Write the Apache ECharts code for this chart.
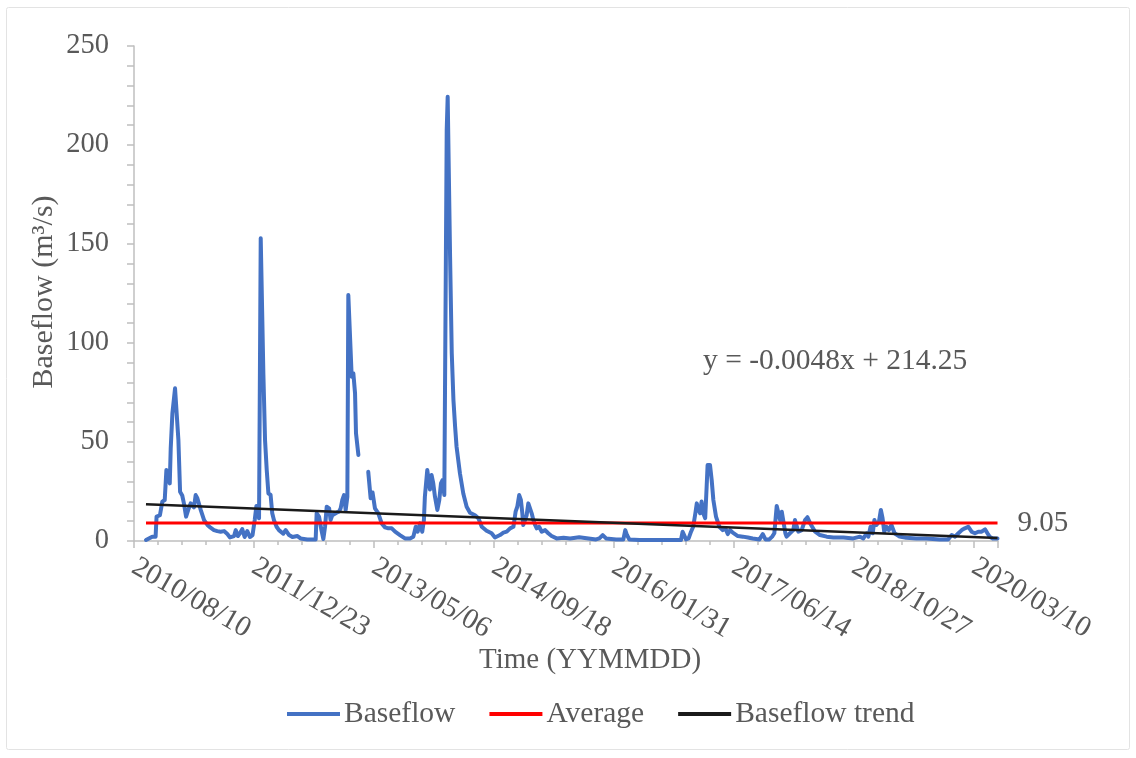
<!DOCTYPE html>
<html>
<head>
<meta charset="utf-8">
<script src="https://cdn.jsdelivr.net/npm/echarts@6/dist/echarts.min.js"></script>
<style>
  html, body { margin: 0; padding: 0; background: #ffffff; }
  #chart { width: 1136px; height: 758px; }
</style>
</head>
<body>
<div id="chart"></div>
<script>
// Days since 2010/08/10
const days = [
  50, 76, 90, 94, 108, 118, 128, 135, 139, 149, 153, 160, 167, 171, 176, 185, 192, 201, 208, 217,
  226, 236, 244, 250, 257, 264, 278, 292, 306, 319, 333, 347, 361, 375, 389, 400, 417, 424, 433, 442,
  451, 461, 472, 483, 494, 503, 510, 517, 521, 528, 532, 539, 546, 553, 560, 569, 576, 583, 594, 604,
  611, 622, 632, 646, 660, 681, 694, 722, 757, 761, 771, 781, 789, 796, 803, 813, 819, 826, 833, 844,
  854, 861, 868, 875, 882, 889, 893, 900, 907, 914, 921, 925, 935, 955, 976, 986, 994, 1004, 1018, 1032,
  1046, 1060, 1074, 1088, 1108, 1129, 1150, 1164, 1174, 1182, 1192, 1201, 1208, 1212, 1222, 1229, 1233, 1240, 1247, 1254,
  1264, 1272, 1279, 1286, 1293, 1300, 1303, 1307, 1313, 1317, 1324, 1331, 1338, 1344, 1358, 1372, 1386, 1400, 1421, 1435,
  1449, 1469, 1490, 1504, 1525, 1539, 1553, 1567, 1581, 1590, 1597, 1605, 1612, 1618, 1622, 1629, 1636, 1643, 1650, 1657,
  1664, 1671, 1678, 1688, 1699, 1713, 1726, 1740, 1761, 1790, 1817, 1855, 1925, 1939, 1953, 1967, 2009, 2039, 2047, 2054,
  2064, 2106, 2161, 2217, 2279, 2286, 2293, 2300, 2311, 2321, 2330, 2339, 2345, 2352, 2359, 2365, 2372, 2380, 2386, 2390,
  2400, 2407, 2414, 2425, 2439, 2453, 2464, 2474, 2484, 2495, 2516, 2537, 2558, 2578, 2606, 2620, 2631, 2647, 2659, 2668,
  2678, 2685, 2692, 2699, 2706, 2714, 2719, 2733, 2747, 2754, 2761, 2768, 2782, 2796, 2806, 2817, 2838, 2858, 2886, 2914,
  2956, 2997, 3025, 3039, 3053, 3060, 3069, 3078, 3085, 3094, 3104, 3112, 3119, 3126, 3135, 3145, 3156, 3169, 3190, 3218,
  3260, 3301, 3357, 3392, 3407, 3421, 3435, 3449, 3462, 3476, 3490, 3504, 3518, 3532, 3546, 3556, 3565, 3578, 3598
];
// Baseflow (m3/s)
const baseflow = [
  0.5, 2.2, 2.2, 12.3, 13, 19.9, 20.7, 35.9, 36.7, 29.1, 46.8, 64.5, 65, 77.1, 77, 51, 24.9, 23, 19, 12.3,
  15.7, 19, 19, 17, 23.2, 21.6, 15.7, 10.6, 8.1, 6.7, 5.5, 5, 4.7, 5, 3.5, 1.8, 2.5, 5.5, 2.5, 4,
  6, 2, 5, 2, 3, 10.6, 17.7, 17.5, 11.5, 152.9, 152.5, 84.7, 51, 35.9, 24, 23.4, 14, 10.6, 7.2, 5.5,
  6.2, 3.7, 5.5, 3, 2, 2.5, 1.3, 0.8, 0.8, 14, 12.3, 5.5, 1, 7.2, 17.3, 16.5, 10.6, 13, 12.6, 14.3,
  14.8, 16.5, 20.7, 23.2, 15.7, 22.4, 124.2, 124.5, 83, 84.7, 74.6, 54.4, 43.4, null, 35, 21.6, 24.5, 16.5, 14, 8.9,
  6.9, 6.4, 6.4, 4.7, 3, 1.3, 1.3, 2.2, 7.2, 4.7, 8.9, 4.7, 10.6, 22.4, 35.9, 35, 26, 33.3, 29.1, 22.4,
  15.7, 20.7, 29.1, 30.8, 23.2, 24, 207.6, 224.4, 224, 143.6, 94.8, 71.2, 57.7, 47.6, 34.2, 24, 17.3, 14.3, 13, 11.5,
  7.2, 5.2, 3.9, 1.8, 3, 4.2, 4.7, 6.4, 7.2, 14.8, 17.3, 23.2, 20.7, 14, 8.1, 10.6, 13, 19, 19.9, 14,
  10.6, 8.1, 6.4, 7.2, 4.7, 5.5, 3.9, 2.5, 1.3, 1.6, 1.3, 1.9, 0.8, 1.3, 3, 1.3, 0.8, 0.8, 5.5, 3,
  0.8, 0.5, 0.5, 0.5, 0.5, 4.7, 5.5, 0.8, 1.3, 4.7, 7.2, 14, 19, 15.7, 14, 19.9, 14, 11.5, 27.4, 38.4,
  38.4, 30.8, 20.7, 12.3, 7.2, 5.5, 6.4, 3.5, 5.5, 4.2, 2.5, 2.2, 1.8, 1.3, 0.8, 3.5, 0.8, 0.8, 2.2, 3.9,
  17.7, 17.3, 10.6, 14.8, 14.3, 3.9, 2.2, 3.9, 5.5, 10.6, 11.5, 4.7, 5.5, 10.6, 12, 9, 4.7, 3, 2.2, 1.8,
  1.8, 1.3, 2.2, 1.3, 3.9, 2.2, 7.2, 3.9, 10.6, 8.1, 9.8, 15.7, 11.5, 4.7, 7.2, 5.5, 8.1, 3.9, 2.2, 1.6,
  1.3, 1.3, 0.8, 0.8, 3, 2.2, 3.9, 5.5, 6.4, 7.2, 4.7, 3.9, 4.7, 4.7, 5.9, 3.9, 2.2, 1.3, 1.3
];
const lineDays = [50, 3598];
const averageValues = [9.05, 9.05];
const trendValues = [18.6, 1.5];
const xTickLabels = ['2010/08/10', '2011/12/23', '2013/05/06', '2014/09/18', '2016/01/31', '2017/06/14', '2018/10/27', '2020/03/10'];
const yTickValues = [0, 50, 100, 150, 200, 250];
const equationText = 'y = -0.0048x + 214.25';

const FONT = '"Liberation Serif", "Times New Roman", serif';
const GRAY = '#595959';
const AXIS_GRAY = '#BFBFBF';
const FS = 29;

const chart = echarts.init(document.getElementById('chart'), null, { renderer: 'canvas' });

const option = {
  backgroundColor: '#ffffff',
  animation: false,
  textStyle: { fontFamily: FONT },
  grid: { left: 134, right: 138, top: 46, bottom: 217, containLabel: false, outerBoundsMode: 'none' },
  xAxis: [
    {
      type: 'value', position: 'bottom', min: 0, max: 3600, interval: 500,
      axisLine: { show: true, lineStyle: { color: AXIS_GRAY, width: 1.5 } },
      axisTick: { show: true, length: 7, lineStyle: { color: AXIS_GRAY, width: 1.5 } },
      splitLine: { show: false },
      axisLabel: {
        rotate: -30, margin: 24, fontSize: FS, color: GRAY, fontFamily: FONT,
        formatter: function (v) {
          const i = Math.round(v / 500);
          return (v % 500 === 0 && i < xTickLabels.length) ? xTickLabels[i] : '';
        }
      }
    },
    {
      type: 'value', position: 'bottom', min: 0, max: 3600, interval: 100,
      axisLine: { show: false },
      axisTick: { show: true, length: 4, lineStyle: { color: AXIS_GRAY, width: 1.5 } },
      splitLine: { show: false },
      axisLabel: { show: false }
    }
  ],
  yAxis: {
    type: 'value', min: 0, max: 250, interval: 50,
    axisLine: { show: true, lineStyle: { color: AXIS_GRAY, width: 1.5 } },
    axisTick: { show: true, length: 7, lineStyle: { color: AXIS_GRAY, width: 1.5 } },
    minorTick: { show: true, splitNumber: 5, length: 7, lineStyle: { color: AXIS_GRAY, width: 1.5 } },
    splitLine: { show: false },
    axisLabel: {
      margin: 25, fontSize: 28.5, color: GRAY, fontFamily: FONT,
      formatter: function (v) { return yTickValues.indexOf(v) >= 0 ? String(v) : ''; }
    }
  },
  legend: {
    left: 287, top: 699, padding: 0,
    itemWidth: 53, itemHeight: 4, itemGap: 34,
    icon: 'rect',
    textStyle: { fontSize: 29.5, color: GRAY, fontFamily: FONT, padding: [0, 0, 0, -1] },
    data: ['Baseflow', 'Average', 'Baseflow trend']
  },
  series: [
    {
      name: 'Baseflow', type: 'line', xAxisIndex: 0,
      data: days.map((d, i) => [d, baseflow[i]]),
      showSymbol: false, symbol: 'none',
      lineStyle: { color: '#4472C4', width: 4, join: 'round', cap: 'round' },
      itemStyle: { color: '#4472C4' },
      connectNulls: false, z: 2
    },
    {
      name: 'Average', type: 'line', xAxisIndex: 0,
      data: lineDays.map((d, i) => [d, averageValues[i]]),
      showSymbol: false, symbol: 'none',
      lineStyle: { color: '#FF0000', width: 3 },
      itemStyle: { color: '#FF0000' },
      endLabel: {
        show: true, distance: 20, fontSize: FS, color: GRAY, fontFamily: FONT,
        formatter: function (p) { return averageValues[1].toFixed(2); }
      },
      z: 3
    },
    {
      name: 'Baseflow trend', type: 'line', xAxisIndex: 0,
      data: lineDays.map((d, i) => [d, trendValues[i]]),
      showSymbol: false, symbol: 'none',
      lineStyle: { color: '#1A1A1A', width: 2.5 },
      itemStyle: { color: '#1A1A1A' },
      z: 4
    }
  ],
  graphic: [
    {
      type: 'rect', silent: true, z: -1,
      shape: { x: 6.5, y: 7.5, width: 1123, height: 742, r: 2 },
      style: { fill: 'none', stroke: '#E3E3E3', lineWidth: 1 }
    },
    {
      type: 'text', left: 703, top: 346,
      style: { text: equationText, font: '29.5px ' + FONT, fill: GRAY }
    },
    {
      type: 'text', x: 590, y: 660,
      style: { text: 'Time (YYMMDD)', font: '29px ' + FONT, fill: GRAY, align: 'center', verticalAlign: 'middle' }
    },
    {
      type: 'text', x: 44, y: 292, rotation: Math.PI / 2,
      style: { text: 'Baseflow (m³/s)', font: '30px ' + FONT, fill: GRAY, align: 'center', verticalAlign: 'middle' }
    }
  ]
};

chart.setOption(option);
</script>
</body>
</html>
